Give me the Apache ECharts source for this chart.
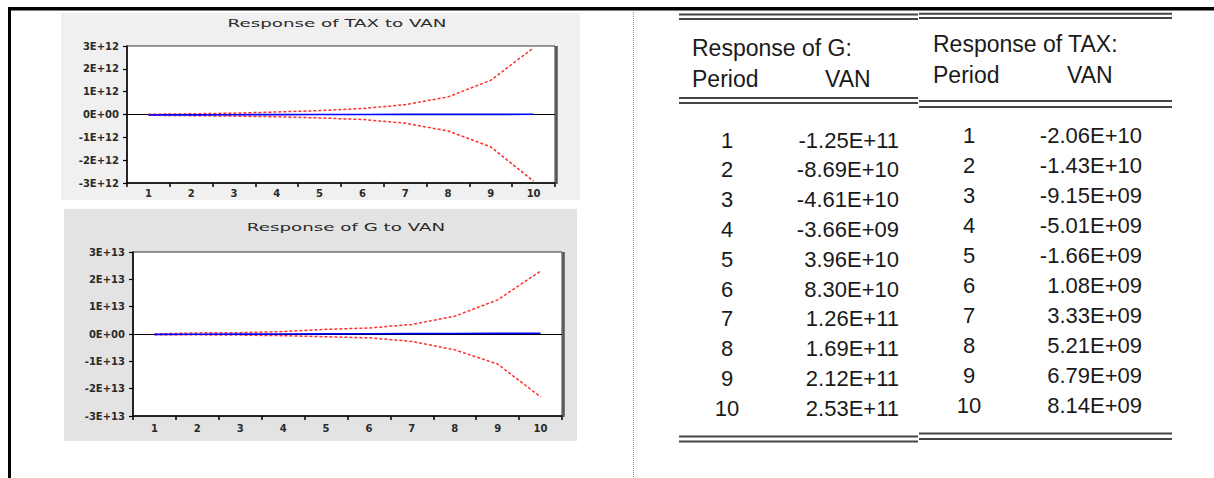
<!DOCTYPE html>
<html>
<head>
<meta charset="utf-8">
<script src="https://cdn.jsdelivr.net/npm/echarts@6/dist/echarts.min.js"></script>
<style>
  html, body { margin: 0; padding: 0; background: #fff; }
  #chart { width: 1214px; height: 478px; }
</style>
</head>
<body>
<div id="chart"></div>
<script>
// periods 1..10
const periods = ['1', '2', '3', '4', '5', '6', '7', '8', '9', '10']

// impulse responses to a VAN shock (from the tables)
const gResponse = [-1.25e11, -8.69e10, -4.61e10, -3.66e9, 3.96e10, 8.30e10, 1.26e11, 1.69e11, 2.12e11, 2.53e11]
const taxResponse = [-2.06e10, -1.43e10, -9.15e9, -5.01e9, -1.66e9, 1.08e9, 3.33e9, 5.21e9, 6.79e9, 8.14e9]

// +/- 2 S.E. bands
const taxUpper = [1.0e10, 3.0e10, 6.0e10, 1.1e11, 1.7e11, 2.6e11, 4.3e11, 7.7e11, 1.50e12, 2.92e12]
const taxLower = [-3.0e10, -5.0e10, -7.0e10, -1.0e11, -1.5e11, -2.2e11, -3.8e11, -7.2e11, -1.42e12, -2.92e12]
const gUpper = [0, 4e11, 5e11, 9e11, 1.7e12, 2.2e12, 3.5e12, 6.5e12, 1.25e13, 2.3e13]
const gLower = [-3e11, -3e11, -4e11, -6e11, -1.0e12, -1.4e12, -2.7e12, -5.8e12, -1.1e13, -2.3e13]

// y axis exponents
const taxExp = 12
const gExp = 13

const chart = echarts.init(document.getElementById('chart'), null, { renderer: 'svg' })

function sciLabel(v, exp) {
  if (v === 0) return '0E+00'
  return Math.round(v / Math.pow(10, exp)) + 'E+' + exp
}

// table number format like -1.25E+11 / 8.30E+10 / -3.66E+09
function fmtTable(v) {
  const s = v.toExponential(2).toUpperCase()
  const parts = s.split('E')
  const e = parts[1]
  let digits = e.slice(1)
  if (digits.length < 2) digits = '0' + digits
  return parts[0] + 'E' + e[0] + digits
}

const tickFont = { fontFamily: 'DejaVu Sans', fontSize: 10, fontWeight: 'bold', color: '#2a2a2a' }

function makeAxes(idx, exp, labelMargin) {
  const x = {
    type: 'category',
    gridIndex: idx,
    data: periods,
    boundaryGap: true,
    axisLine: { onZero: false, lineStyle: { color: '#000', width: 1.5 } },
    axisTick: { show: true, interval: 0, length: 4, lineStyle: { color: '#000', width: 1.5 } },
    axisLabel: Object.assign({ interval: 0, margin: labelMargin }, tickFont),
    splitLine: { show: false }
  }
  const y = {
    type: 'value',
    gridIndex: idx,
    min: -3 * Math.pow(10, exp),
    max: 3 * Math.pow(10, exp),
    interval: Math.pow(10, exp),
    axisLine: { show: true, onZero: false, lineStyle: { color: '#000', width: 1.5 } },
    axisTick: { show: true, length: 4, lineStyle: { color: '#000', width: 1.2 } },
    axisLabel: Object.assign({ margin: 8, formatter: (v) => sciLabel(v, exp) }, tickFont),
    splitLine: { show: false }
  }
  return { x, y }
}

const taxAxes = makeAxes(0, taxExp, 5)
const gAxes = makeAxes(1, gExp, 7)

function bandSeries(idx, data, withZero) {
  const s = {
    type: 'line',
    xAxisIndex: idx,
    yAxisIndex: idx,
    data: data,
    symbol: 'none',
    z: 2,
    lineStyle: { color: '#ff3030', width: 1.5, type: [3, 2] }
  }
  if (withZero) {
    // zero line sits under the response line
    s.markLine = {
      silent: true,
      z: 1,
      symbol: 'none',
      label: { show: false },
      lineStyle: { color: '#000', width: 1, type: 'solid' },
      data: [{ yAxis: 0 }]
    }
  }
  return s
}

function respSeries(idx, data) {
  return {
    type: 'line',
    xAxisIndex: idx,
    yAxisIndex: idx,
    data: data,
    symbol: 'none',
    z: 6,
    lineStyle: { color: '#0000ff', width: 1.6 }
  }
}

// table text
const tableText = []
const tableLines = []
function hline(x1, x2, y) {
  tableLines.push({
    type: 'line',
    shape: { x1: x1, y1: y, x2: x2, y2: y },
    style: { stroke: '#444', lineWidth: 2 },
    z: 50
  })
}
function txt(str, x, y, align, size) {
  tableText.push({
    type: 'text',
    x: x,
    y: y,
    style: {
      text: str,
      align: align,
      verticalAlign: 'middle',
      fontFamily: 'Liberation Sans, Arial',
      fontSize: size,
      fill: '#1a1a1a'
    },
    z: 60
  })
}

function buildTable(cfg, values) {
  hline(cfg.x1, cfg.x2, cfg.topLines[0])
  hline(cfg.x1, cfg.x2, cfg.topLines[1])
  hline(cfg.x1, cfg.x2, cfg.headLines[0])
  hline(cfg.x1, cfg.x2, cfg.headLines[1])
  hline(cfg.x1, cfg.x2, cfg.bottomLines[0])
  hline(cfg.x1, cfg.x2, cfg.bottomLines[1])
  txt(cfg.title, cfg.textLeft, cfg.headY[0], 'left', 23)
  txt('Period', cfg.textLeft, cfg.headY[1], 'left', 23)
  txt('VAN', cfg.vanLeft, cfg.headY[1], 'left', 23)
  for (let i = 0; i < periods.length; i++) {
    const y = cfg.rowY0 + i * cfg.rowStep
    txt(periods[i], cfg.periodX, y, 'center', 22)
    txt(fmtTable(values[i]), cfg.valueRight, y, 'right', 22)
  }
}

buildTable({
  title: 'Response of G:', x1: 679, x2: 918,
  topLines: [14.5, 19], headLines: [98, 103], bottomLines: [436.5, 441.5],
  textLeft: 692, vanLeft: 825, headY: [48, 79],
  periodX: 727, valueRight: 899, rowY0: 140, rowStep: 29.8
}, gResponse)

buildTable({
  title: 'Response of TAX:', x1: 919, x2: 1172,
  topLines: [13.8, 18], headLines: [101, 107], bottomLines: [433.5, 439],
  textLeft: 933, vanLeft: 1067, headY: [44, 75],
  periodX: 969, valueRight: 1142, rowY0: 135, rowStep: 30
}, taxResponse)

const option = {
  animation: false,
  backgroundColor: '#fff',
  grid: [
    { left: 127, top: 46, width: 428, height: 137, show: true, backgroundColor: '#fff', borderColor: '#333', borderWidth: 1 },
    { left: 133, top: 252, width: 429, height: 164, show: true, backgroundColor: '#fff', borderColor: '#333', borderWidth: 1 }
  ],
  xAxis: [taxAxes.x, gAxes.x],
  yAxis: [taxAxes.y, gAxes.y],
  series: [
    bandSeries(0, taxUpper, true),
    bandSeries(0, taxLower, false),
    respSeries(0, taxResponse),
    bandSeries(1, gUpper, true),
    bandSeries(1, gLower, false),
    respSeries(1, gResponse)
  ],
  graphic: [
    // page frame
    { type: 'rect', shape: { x: 8, y: 7, width: 1206, height: 3.5 }, style: { fill: '#000' }, z: 40 },
    { type: 'rect', shape: { x: 8, y: 7, width: 3, height: 471 }, style: { fill: '#000' }, z: 40 },
    { type: 'line', shape: { x1: 633.5, y1: 12, x2: 633.5, y2: 478 }, style: { stroke: '#888', lineWidth: 1, lineDash: [1, 1] }, z: 40 },
    // graph panels
    { type: 'rect', shape: { x: 61, y: 13, width: 519, height: 187 }, style: { fill: '#f0f0f0' }, z: -10 },
    { type: 'rect', shape: { x: 64, y: 209, width: 513, height: 232 }, style: { fill: '#e3e3e3' }, z: -10 },
    // plot right edge shadow
    { type: 'line', shape: { x1: 556.5, y1: 46, x2: 556.5, y2: 184 }, style: { stroke: '#555', lineWidth: 2.5 }, z: 40 },
    { type: 'line', shape: { x1: 563.5, y1: 252, x2: 563.5, y2: 417 }, style: { stroke: '#555', lineWidth: 2.5 }, z: 40 },
    // graph titles
    {
      type: 'text', x: 337, y: 23, scaleX: 1.66, z: 40,
      style: { text: 'Response of TAX to VAN', align: 'center', verticalAlign: 'middle', fontFamily: 'DejaVu Sans', fontSize: 11, fill: '#2a2a2a' }
    },
    {
      type: 'text', x: 346, y: 227, scaleX: 1.66, z: 40,
      style: { text: 'Response of G to VAN', align: 'center', verticalAlign: 'middle', fontFamily: 'DejaVu Sans', fontSize: 11, fill: '#2a2a2a' }
    }
  ].concat(tableLines, tableText)
}

chart.setOption(option)
</script>
</body>
</html>
